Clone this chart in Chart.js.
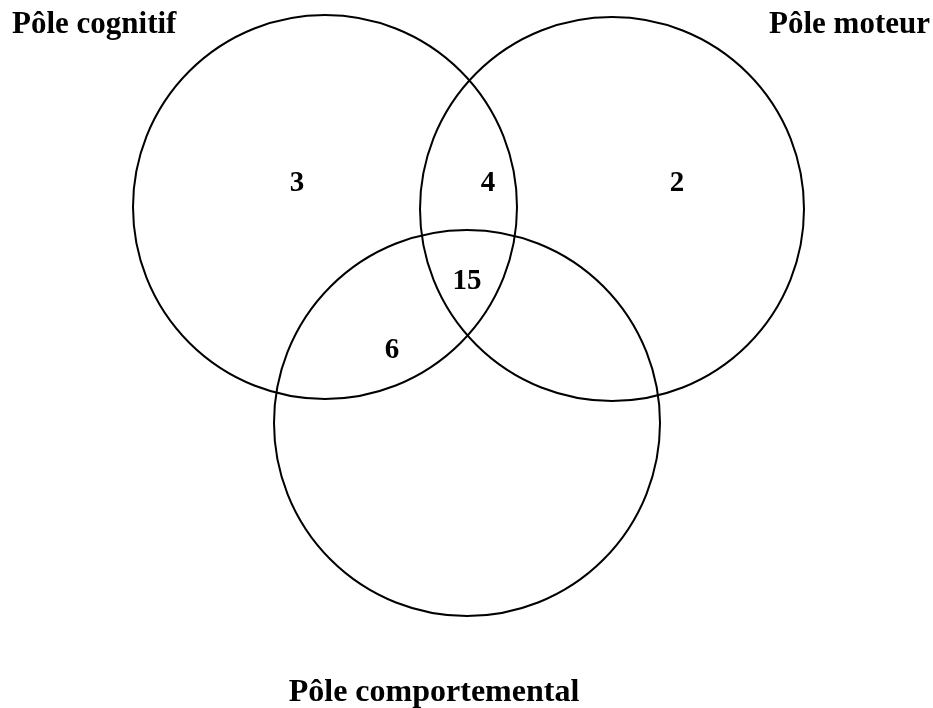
<!DOCTYPE html>
<html>
<head>
<meta charset="utf-8">
<script src="https://cdn.jsdelivr.net/npm/chart.js@4"></script>
<style>
  html, body { margin: 0; padding: 0; background: #fff; }
  #wrap { width: 933px; height: 708px; position: relative; }
</style>
</head>
<body>
<div id="wrap"><canvas id="venn"></canvas></div>
<script>
// Sets and region counts
const setNames = ['Pôle cognitif', 'Pôle moteur', 'Pôle comportemental'];
const regionNames = ['cognitif seul', 'cognitif + moteur', 'moteur seul', 'les trois pôles', 'cognitif + comportemental'];
const regionCounts = [3, 4, 2, 15, 6];

// Layout (chart units = page pixels)
const circleLayout = [
    { x: 325, y: 207, r: 192 },
    { x: 612, y: 209, r: 192 },
    { x: 467, y: 423, r: 193 }
];
const regionSpots = [
    { x: 297, y: 184 },
    { x: 488, y: 184 },
    { x: 677, y: 184 },
    { x: 467, y: 282 },
    { x: 392, y: 351 }
];
const setLabelSpots = [
    { x: 12, y: 33, align: 'left', size: 31 },
    { x: 930, y: 33, align: 'right', size: 31 },
    { x: 434, y: 701, align: 'center', size: 32 }
];

const FONT = '"Liberation Serif", "Times New Roman", serif';

// circles: centre from the dataset's own points, radius through the x scale
const circlePlugin = {
    id: 'vennCircles',
    afterDatasetsDraw(chart) {
        const ctx = chart.ctx;
        const xs = chart.scales.x;
        const meta = chart.getDatasetMeta(0);
        ctx.save();
        ctx.strokeStyle = '#000';
        ctx.lineWidth = 2;
        meta.data.forEach((pt, i) => {
            const r = Math.abs(xs.getPixelForValue(circleLayout[i].r) - xs.getPixelForValue(0));
            ctx.beginPath();
            ctx.arc(pt.x, pt.y, r, 0, Math.PI * 2);
            ctx.stroke();
        });
        ctx.restore();
    }
};

const textPlugin = {
    id: 'vennText',
    afterDatasetsDraw(chart) {
        const ctx = chart.ctx;
        const xs = chart.scales.x, ys = chart.scales.y;
        ctx.save();
        ctx.fillStyle = '#000';

        // counts in each region
        ctx.font = 'bold 29px ' + FONT;
        ctx.textAlign = 'center';
        ctx.textBaseline = 'middle';
        regionCounts.forEach((n, i) => {
            ctx.fillText(String(n), xs.getPixelForValue(regionSpots[i].x), ys.getPixelForValue(regionSpots[i].y));
        });

        // set names
        ctx.textBaseline = 'alphabetic';
        setNames.forEach((name, i) => {
            const s = setLabelSpots[i];
            ctx.font = 'bold ' + s.size + 'px ' + FONT;
            ctx.textAlign = s.align;
            ctx.fillText(name, xs.getPixelForValue(s.x), ys.getPixelForValue(s.y));
        });
        ctx.restore();
    }
};

new Chart(document.getElementById('venn'), {
    type: 'scatter',
    data: {
        datasets: [{
            label: 'Pôles',
            data: circleLayout.map((c, i) => ({ x: c.x, y: c.y, name: setNames[i] })),
            pointRadius: 0,
            pointHoverRadius: 0
        }]
    },
    options: {
        responsive: true,
        maintainAspectRatio: false,
        animation: false,
        events: [],
        layout: { padding: 0 },
        scales: {
            x: { type: 'linear', min: 0, max: 933, display: false },
            y: { type: 'linear', min: 0, max: 708, reverse: true, display: false }
        },
        plugins: {
            legend: { display: false },
            tooltip: { enabled: false }
        }
    },
    plugins: [circlePlugin, textPlugin]
});
</script>
</body>
</html>
